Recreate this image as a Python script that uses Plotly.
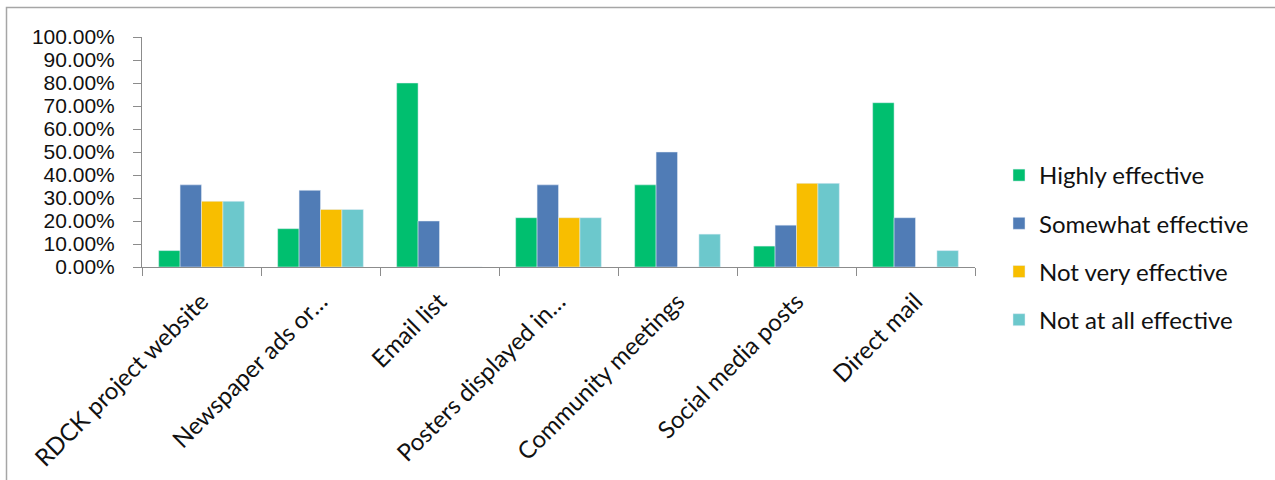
import plotly.graph_objects as go

categories = ["RDCK project website", "Newspaper ads or…", "Email list",
              "Posters displayed in…", "Community meetings", "Social media posts", "Direct mail"]
highly = [0.0714, 0.1667, 0.80, 0.2143, 0.3571, 0.0909, 0.7143]
somewhat = [0.3571, 0.3333, 0.20, 0.3571, 0.50, 0.1818, 0.2143]
not_very = [0.2857, 0.25, 0.0, 0.2143, 0.0, 0.3636, 0.0]
not_at_all = [0.2857, 0.25, 0.0, 0.2143, 0.1429, 0.3636, 0.0714]
series_names = ["Highly effective", "Somewhat effective", "Not very effective", "Not at all effective"]
colors = ["#00BF6F", "#507CB6", "#F8BE00", "#6CC8CC"]

W, H = 1275, 480
L, T = 142, 37
pw, ph = 833, 230
R, B = W - L - pw, H - T - ph

fig = go.Figure()
for i, (name, vals) in enumerate(zip(series_names, [highly, somewhat, not_very, not_at_all])):
    fig.add_trace(go.Bar(x=categories, y=vals, name=name, marker_color=colors[i],
                         legendgroup=name))

def px_x(px):
    return (px - L) / pw

def px_y(py):
    return 1 - (py - T) / ph

fig.add_shape(type="rect", xref="paper", yref="paper",
              x0=px_x(6.5), x1=px_x(1300), y0=px_y(500), y1=px_y(7.5),
              line=dict(color="#a6a6a6", width=1.5), fillcolor="rgba(0,0,0,0)", layer="below")

fig.update_layout(
    width=W, height=H,
    margin=dict(l=L, r=R, t=T, b=B, autoexpand=False),
    paper_bgcolor="white", plot_bgcolor="white",
    barmode="group", bargap=0.28, bargroupgap=0,
    showlegend=True,
    legend=dict(x=px_x(999), xanchor="left", y=px_y(247.5), yanchor="middle",
                font=dict(family="Lato", size=24, color="#111"),
                tracegroupgap=14, itemwidth=30),
    xaxis=dict(type="category", showline=True, linecolor="#8c8c8c", linewidth=1,
               ticks="outside", tickson="boundaries", ticklen=8, tickcolor="#8c8c8c",
               tickangle=-45, tickfont=dict(family="Lato", size=24, color="#111"),
               showgrid=False, ticklabelstandoff=10),
    yaxis=dict(range=[0, 1], dtick=0.1, tickformat=".2%", showline=True,
               linecolor="#8c8c8c", linewidth=1, ticks="outside", ticklen=8,
               tickcolor="#8c8c8c", showgrid=False, zeroline=False,
               tickfont=dict(family="Liberation Sans", size=21, color="#111"),
               ticklabelstandoff=14),
)

fig.write_html("out.html", config={"displayModeBar": False},
               post_script="document.body.style.margin='0';")
